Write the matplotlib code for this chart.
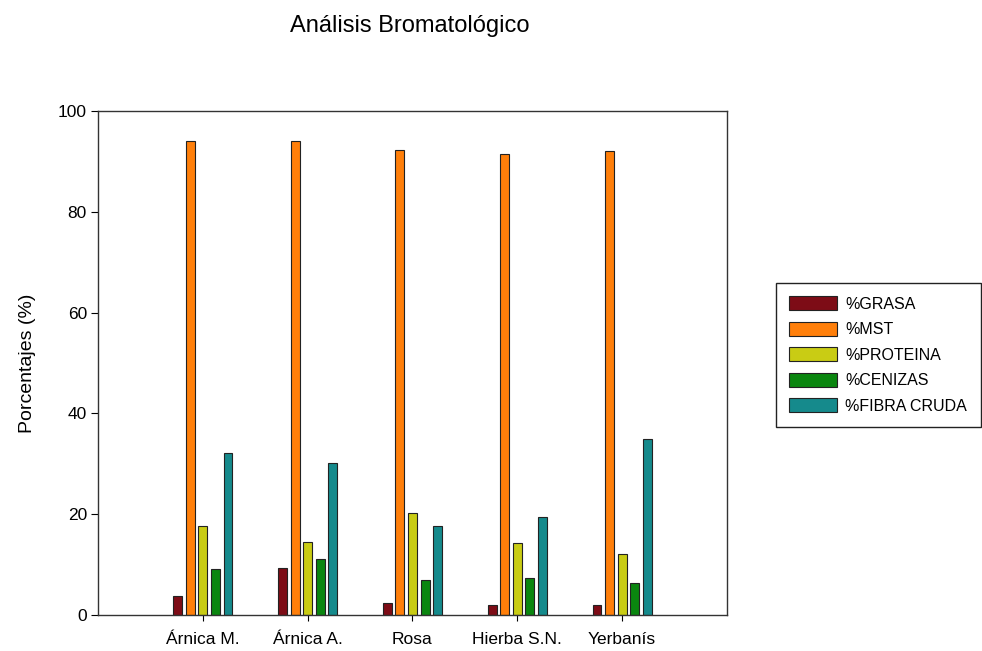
import numpy as np
import matplotlib
matplotlib.use("Agg")
import matplotlib.pyplot as plt

plt.rcParams["font.family"] = ["Liberation Sans", "DejaVu Sans"]

CATEGORIAS = ["Árnica M.", "Árnica A.", "Rosa", "Hierba S.N.", "Yerbanís"]
SERIES = ["%GRASA", "%MST", "%PROTEINA", "%CENIZAS", "%FIBRA CRUDA"]
grasa = [3.7, 9.3, 2.4, 2.0, 2.0]
mst = [94.0, 94.0, 92.3, 91.4, 92.0]
proteina = [17.7, 14.4, 20.2, 14.2, 12.2]
cenizas = [9.1, 11.1, 7.0, 7.3, 6.3]
fibra = [32.1, 30.2, 17.6, 19.5, 34.9]
COLORES = ["#7d0c16", "#ff7f0a", "#c9cc14", "#0a860f", "#158a8c"]

valores = [grasa, mst, proteina, cenizas, fibra]

fig = plt.figure(figsize=(9.82, 6.51), dpi=100)
ax = fig.add_axes([0.0998, 0.0553, 0.6405, 0.7742])

x = np.arange(len(CATEGORIAS))
ancho = 0.085
paso = 0.12
for i, (serie, vals, color) in enumerate(zip(SERIES, valores, COLORES)):
    ax.bar(x + (i - 2) * paso, vals, width=ancho, color=color,
           edgecolor="#222222", linewidth=0.8, label=serie)

ax.set_xlim(-1, 5)
ax.set_ylim(0, 100)
ax.set_xticks(x)
ax.set_xticklabels(CATEGORIAS, fontsize=12.5)
ax.set_yticks([0, 20, 40, 60, 80, 100])
ax.tick_params(axis="y", labelsize=12.5, length=5, width=0.8,
               direction="out", pad=3)
ax.tick_params(axis="x", length=4, width=0.8, direction="out", pad=8)
ax.set_ylabel("Porcentajes (%)", fontsize=14, labelpad=16)
for s in ax.spines.values():
    s.set_color("#333333")
    s.set_linewidth(1.0)

fig.text(0.4175, 0.960, "Análisis Bromatológico", fontsize=17,
         ha="center", va="center")

leg = ax.legend(loc="upper left", bbox_to_anchor=(0.790, 0.566),
                bbox_transform=fig.transFigure, borderaxespad=0,
                fontsize=11.5, fancybox=False, framealpha=1,
                handlelength=3.0, handleheight=1.0, labelspacing=0.62,
                borderpad=0.85, handletextpad=0.5)
leg.get_frame().set_edgecolor("#222222")
leg.get_frame().set_linewidth(1.0)

fig.savefig("out.png", dpi=100)
